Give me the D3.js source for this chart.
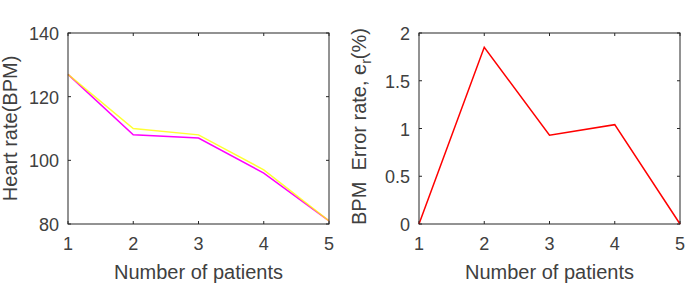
<!DOCTYPE html>
<html>
<head>
<meta charset="utf-8">
<script src="https://cdn.jsdelivr.net/npm/d3@7"></script>
<style>
  body { margin: 0; background: #fff; }
  svg text { font-family: "Liberation Sans", Arial, sans-serif; fill: #404040; }
</style>
</head>
<body>
<svg id="chart" width="685" height="286"></svg>
<script>
const patients = [1, 2, 3, 4, 5];
const hrYellow = [127, 110, 108, 97, 81];
const hrMagenta = [127, 108, 107, 96, 81];
const errorRate = [0, 1.85, 0.93, 1.04, 0];
const hrTicks = [80, 100, 120, 140];
const errTicks = [0, 0.5, 1, 1.5, 2];

const svg = d3.select("#chart");
const plotTop = 33, plotBottom = 224;

function drawPanel({ left, right, yDomain, yTicks, series, yLabel }) {
    const x = d3.scaleLinear().domain([1, 5]).range([left, right]);
    const y = d3.scaleLinear().domain(yDomain).range([plotBottom, plotTop]);
    const g = svg.append("g");

    // inward ticks on all four sides, matlab style
    const tick = 3;
    g.selectAll(".xt").data(patients).enter().append("path")
        .attr("d", d => `M${x(d)},${plotBottom}v${-tick}M${x(d)},${plotTop}v${tick}`)
        .attr("stroke", "#262626").attr("stroke-width", 1);
    g.selectAll(".yt").data(yTicks).enter().append("path")
        .attr("d", d => `M${left},${y(d)}h${tick}M${right},${y(d)}h${-tick}`)
        .attr("stroke", "#262626").attr("stroke-width", 1);

    const line = d3.line().x((d, i) => x(patients[i])).y(d => y(d));
    series.forEach(s => {
        g.append("path")
            .datum(s.values)
            .attr("fill", "none")
            .attr("stroke", s.color)
            .attr("stroke-opacity", s.opacity || 1)
            .attr("stroke-width", 1.5)
            .attr("d", line);
    });

    g.append("rect")
        .attr("x", left).attr("y", plotTop)
        .attr("width", right - left).attr("height", plotBottom - plotTop)
        .attr("fill", "none").attr("stroke", "#262626").attr("stroke-width", 1);

    g.selectAll(".xl").data(patients).enter().append("text")
        .attr("x", d => x(d)).attr("y", plotBottom + 26)
        .attr("text-anchor", "middle").attr("font-size", "18px")
        .text(d => d);
    g.selectAll(".yl").data(yTicks).enter().append("text")
        .attr("x", left - 9).attr("y", d => y(d) + 7)
        .attr("text-anchor", "end").attr("font-size", "18px")
        .text(d => d);

    g.append("text")
        .attr("x", (left + right) / 2).attr("y", 279)
        .attr("text-anchor", "middle").attr("font-size", "20px")
        .text("Number of patients");

    yLabel(g, (plotTop + plotBottom) / 2);
}

drawPanel({
    left: 68, right: 329,
    yDomain: [80, 140], yTicks: hrTicks,
    series: [
        { values: hrMagenta, color: "#ff00ff" },
        { values: hrYellow, color: "#ffff00", opacity: 0.8 }
    ],
    yLabel: (g, cy) => {
        g.append("text")
            .attr("transform", `translate(17,${cy}) rotate(-90)`)
            .attr("text-anchor", "middle").attr("font-size", "20px")
            .text("Heart rate(BPM)");
    }
});

drawPanel({
    left: 419, right: 680,
    yDomain: [0, 2], yTicks: errTicks,
    series: [{ values: errorRate, color: "#ff0000" }],
    yLabel: (g, cy) => {
        const t = g.append("text")
            .attr("transform", `translate(366,${cy - 2}) rotate(-90)`)
            .attr("text-anchor", "middle").attr("font-size", "20px")
            .attr("xml:space", "preserve");
        t.append("tspan").text("BPM  Error rate, e");
        t.append("tspan").attr("dy", 5).attr("font-size", "14px").text("r");
        t.append("tspan").attr("dy", -5).text("(%)");
    }
});
</script>
</body>
</html>
